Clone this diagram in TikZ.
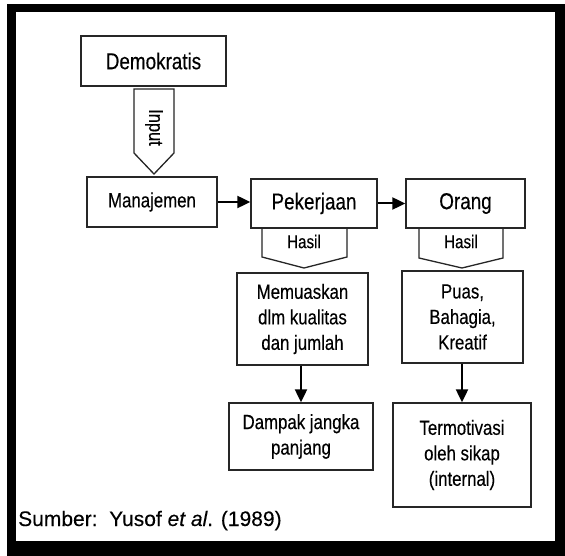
\documentclass[tikz,border=0pt]{standalone}
\usepackage{fontspec}
\setmainfont[FakeStretch=0.82,FakeBold=0.3]{Liberation Sans}
\newfontfamily\regsans[FakeBold=0.2]{Liberation Sans}
\usetikzlibrary{arrows.meta}
\begin{document}
\begin{tikzpicture}[x=1pt,y=-1pt,
  box/.style={draw=black!85, line width=1.3pt, fill=white, inner sep=0pt, align=center, text=black},
  big/.style={font=\fontsize{23}{27}\selectfont},
  mid/.style={font=\fontsize{20.5}{25.5}\selectfont},
  lab/.style={inner sep=0pt, text=black},
  flow/.style={draw=black, line width=2pt, -{Triangle[length=13pt,width=12pt]}},
  blockarrow/.style={draw=black!85, line width=1.3pt, fill=white, line join=miter},
]
\useasboundingbox (0,0) rectangle (565,556);
% frame
\fill[black] (7,4.5) rectangle (565,556);
\fill[white] (16,12.5) rectangle (555,541);

% block arrows
\draw[blockarrow] (134,89) -- (174,89) -- (174,153) -- (154,174) -- (134,153) -- cycle;
\draw[blockarrow] (262,228) -- (347,228) -- (347,257) -- (304,268) -- (262,257) -- cycle;
\draw[blockarrow] (419,228) -- (503,228) -- (503,258) -- (462,268) -- (419,258) -- cycle;

% boxes
\node[box,big,minimum width=145pt,minimum height=50pt] (dem) at (153.5,61) {Demokratis};
\node[box,mid,minimum width=130pt,minimum height=50pt] (man) at (152,202) {Manajemen};
\node[box,big,minimum width=126pt,minimum height=49pt] (pek) at (314,203.5) {Pekerjaan};
\node[box,big,minimum width=119pt,minimum height=49pt] (ora) at (465.5,203.5) {Orang};
\node[box,mid,minimum width=131pt,minimum height=92pt] (mem) at (302.5,319) {Memuaskan\\dlm kualitas\\dan jumlah};
\node[box,mid,minimum width=121pt,minimum height=92pt] (puas) at (462.5,317) {Puas,\\Bahagia,\\Kreatif};
\node[box,mid,minimum width=144pt,minimum height=67pt] (dam) at (301,436.5) {Dampak jangka\\panjang};
\node[box,mid,minimum width=138pt,minimum height=104pt] (ter) at (462,455) {Termotivasi\\oleh sikap\\(internal)};

% labels in block arrows
\node[lab,font=\fontsize{20}{20}\selectfont,rotate=-90] (inp) at (154,127.5) {Input};
\node[lab,font=\fontsize{18.5}{20}\selectfont] (has1) at (304,241.5) {Hasil};
\node[lab,font=\fontsize{18.5}{20}\selectfont] (has2) at (461,241.5) {Hasil};

% connectors
\draw[flow] (man.east) -- (pek.west |- man.east);
\draw[flow] (pek.east) -- (ora.west);
\draw[flow] (dam.north |- mem.south) -- (dam.north);
\draw[flow] (ter.north |- puas.south) -- (ter.north);

% source
\node[lab,anchor=base west,font=\regsans\fontsize{21}{21}\selectfont] (src) at (18,526) {Sumber:\ \ Yusof \textit{et al}. (1989)};
\end{tikzpicture}
\end{document}
